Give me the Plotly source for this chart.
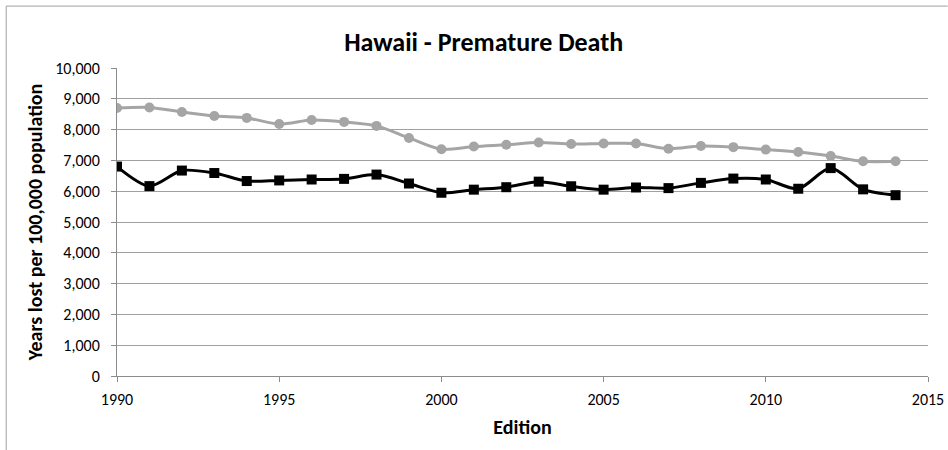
import plotly.graph_objects as go

years = list(range(1990, 2015))
hawaii = [6800, 6165, 6670, 6590, 6330, 6350, 6380, 6400, 6540, 6250,
          5950, 6050, 6130, 6310, 6160, 6050, 6120, 6100, 6270, 6410,
          6380, 6080, 6750, 6060, 5870]
us = [8700, 8720, 8570, 8440, 8380, 8180, 8310, 8250, 8120, 7730,
      7360, 7450, 7510, 7580, 7530, 7550, 7550, 7380, 7470, 7430,
      7350, 7270, 7140, 6970, 6970]

title_text = "Hawaii - Premature Death"
x_title = "Edition"
y_title = "Years lost per 100,000 population"

FONT = "Carlito, Calibri, Lato, sans-serif"

fig = go.Figure()
fig.add_trace(go.Scatter(
    x=years, y=us, mode="lines+markers", name="United States",
    line=dict(color="#A5A5A5", width=3, shape="spline", smoothing=0.8),
    marker=dict(symbol="circle", size=10, color="#A5A5A5"),
))
fig.add_trace(go.Scatter(
    x=years, y=hawaii, mode="lines+markers", name="Hawaii",
    line=dict(color="#000000", width=3, shape="spline", smoothing=0.8),
    marker=dict(symbol="square", size=10, color="#000000"),
))

L, R, T, B = 117.3, 928.3, 68.3, 375.7
W, H = 948, 450

def px_x(p):
    return (p - L) / (R - L)

def px_y(p):
    return (B - p) / (B - T)

fig.update_layout(
    width=W, height=H, autosize=False,
    margin=dict(l=L, r=W - R, t=T, b=H - B, autoexpand=False),
    paper_bgcolor="white", plot_bgcolor="white",
    showlegend=False,
    font=dict(family=FONT, color="#000000", size=16),
    title=dict(text="<b>" + title_text + "</b>", x=px_x(484), xref="paper",
               xanchor="center", y=1 - 42 / H, yref="container", yanchor="middle",
               font=dict(size=26, family=FONT, color="#000000")),
    xaxis=dict(
        range=[1990, 2015], dtick=5, tick0=1990,
        showgrid=False, zeroline=False,
        showline=True, linecolor="#8C8C8C", linewidth=1,
        ticks="outside", ticklen=5, tickcolor="#8C8C8C", tickwidth=1,
        ticklabelstandoff=4,
        tickfont=dict(size=16, family=FONT),
        title=dict(text="<b>" + x_title + "</b>", standoff=11,
                   font=dict(size=20, family=FONT)),
        automargin=False,
    ),
    yaxis=dict(
        range=[0, 10000], dtick=1000, tickformat=",d",
        showgrid=True, gridcolor="#A0A0A0", gridwidth=1,
        zeroline=False,
        showline=True, linecolor="#8C8C8C", linewidth=1,
        ticks="outside", ticklen=5, tickcolor="#8C8C8C", tickwidth=1,
        ticklabelstandoff=8,
        tickfont=dict(size=16, family=FONT),
        title=dict(text="<b>" + y_title + "</b>", standoff=7,
                   font=dict(size=20, family=FONT)),
        automargin=False,
    ),
    shapes=[
        dict(type="line", xref="paper", yref="paper",
             x0=px_x(6.5), x1=px_x(948), y0=px_y(6.5), y1=px_y(6.5),
             line=dict(color="#A0A0A0", width=1)),
        dict(type="line", xref="paper", yref="paper",
             x0=px_x(6.5), x1=px_x(6.5), y0=px_y(6.5), y1=px_y(450),
             line=dict(color="#A0A0A0", width=1)),
    ],
)

fig.write_html("out.html", config={"displayModeBar": False},
               post_script="document.body.style.margin='0px';")
